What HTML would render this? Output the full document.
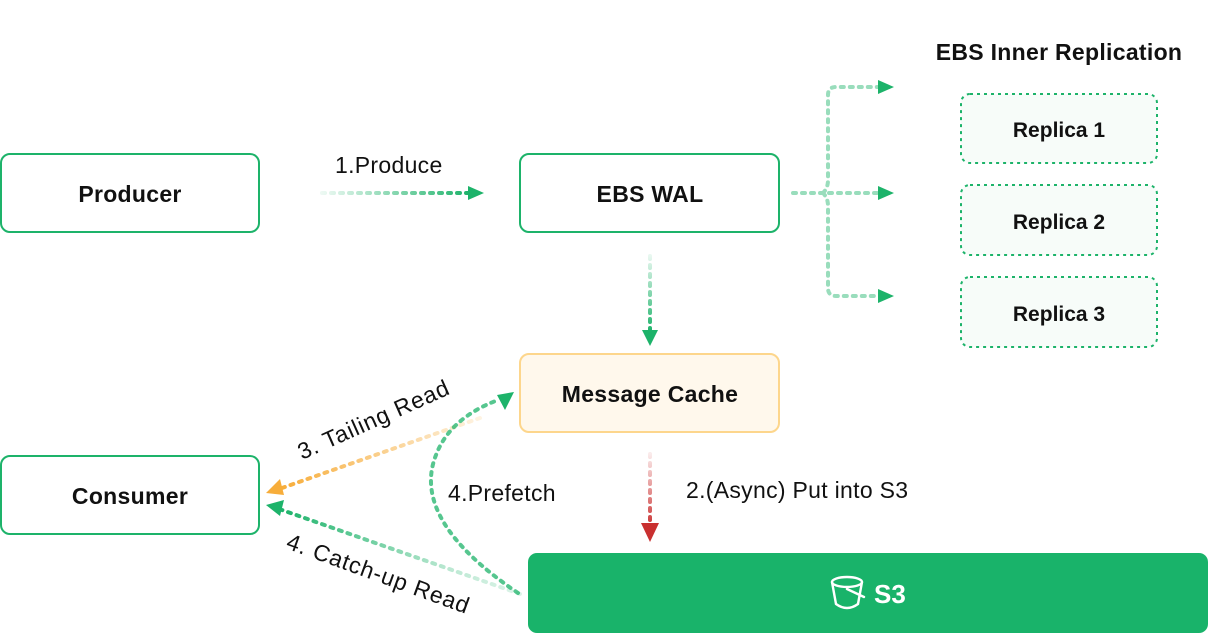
<!DOCTYPE html>
<html><head><meta charset="utf-8"><style>
html,body{margin:0;padding:0;background:#fff;}
svg{display:block;font-family:"Liberation Sans",Arial,sans-serif;}
</style></head><body>
<svg width="1208" height="634" viewBox="0 0 1208 634" xmlns="http://www.w3.org/2000/svg">
<defs>
<linearGradient id="gh" gradientUnits="userSpaceOnUse" x1="322" y1="0" x2="470" y2="0"><stop offset="0" stop-color="#1db36a" stop-opacity="0.08"/><stop offset="1" stop-color="#1db36a"/></linearGradient>
<linearGradient id="gv" gradientUnits="userSpaceOnUse" x1="0" y1="256" x2="0" y2="332"><stop offset="0" stop-color="#1db36a" stop-opacity="0.1"/><stop offset="1" stop-color="#1db36a"/></linearGradient>
<linearGradient id="rv" gradientUnits="userSpaceOnUse" x1="0" y1="454" x2="0" y2="528"><stop offset="0" stop-color="#d03a3a" stop-opacity="0.1"/><stop offset="1" stop-color="#c93030"/></linearGradient>
<linearGradient id="og" gradientUnits="userSpaceOnUse" x1="480" y1="418" x2="282" y2="488"><stop offset="0" stop-color="#f7ad3a" stop-opacity="0.15"/><stop offset="1" stop-color="#f7ad3a"/></linearGradient>
<linearGradient id="cg" gradientUnits="userSpaceOnUse" x1="520" y1="594" x2="282" y2="510"><stop offset="0" stop-color="#1db36a" stop-opacity="0.15"/><stop offset="0.3" stop-color="#1db36a" stop-opacity="0.3"/><stop offset="1" stop-color="#1db36a"/></linearGradient>
</defs>
<g fill="#fff" stroke="#1db36a" stroke-width="2">
<rect x="1" y="154" width="258" height="78" rx="9"/>
<rect x="520" y="154" width="259" height="78" rx="9"/>
<rect x="1" y="456" width="258" height="78" rx="9"/>
</g>
<rect x="520" y="354" width="259" height="78" rx="9" fill="#fff8ec" stroke="#fdd68c" stroke-width="2"/>
<rect x="528" y="553" width="680" height="80" rx="9" fill="#19b36a"/>
<g fill="#f7fcf9" stroke="#1db36a" stroke-width="2" stroke-dasharray="3 4">
<rect x="961" y="94" width="196" height="69" rx="9"/>
<rect x="961" y="185" width="196" height="70" rx="9"/>
<rect x="961" y="277" width="196" height="70" rx="9"/>
</g>
<g font-weight="bold" font-size="23" fill="#111" text-anchor="middle" letter-spacing="0.3">
<text x="130" y="202">Producer</text>
<text x="650" y="202">EBS WAL</text>
<text x="650" y="402">Message Cache</text>
<text x="130" y="504">Consumer</text>
<text x="1059" y="60">EBS Inner Replication</text>
</g>
<g font-weight="bold" font-size="21" fill="#111" text-anchor="middle">
<text x="1059" y="137">Replica 1</text>
<text x="1059" y="229">Replica 2</text>
<text x="1059" y="321">Replica 3</text>
</g>
<g font-size="23" fill="#111" letter-spacing="0.3">
<text x="335" y="173">1.Produce</text>
<text x="448" y="501">4.Prefetch</text>
<text x="686" y="498">2.(Async) Put into S3</text>
<text transform="translate(302,460) rotate(-24)" letter-spacing="0.8">3. Tailing Read</text>
<text transform="translate(285,548) rotate(20)" letter-spacing="0.8">4. Catch-up Read</text>
</g>
<g fill="none" stroke-width="4" stroke-linecap="round" stroke-dasharray="3 6">
<line x1="322" y1="193" x2="470" y2="193" stroke="url(#gh)"/>
<line x1="650" y1="256" x2="650" y2="332" stroke="url(#gv)"/>
<line x1="650" y1="454" x2="650" y2="528" stroke="url(#rv)"/>
<path d="M793 193 H880 M823 193 Q828 188 828 180 V95 Q828 87 836 87 H878 M823 193 Q828 198 828 206 V288 Q828 296 836 296 H878" stroke="#1db36a" stroke-opacity="0.45"/>
<line x1="480" y1="418" x2="282" y2="488" stroke="url(#og)"/>
<line x1="520" y1="594" x2="282" y2="510" stroke="url(#cg)"/>
<path d="M518 593 Q410 520 436 455 Q450 418 498 400" stroke="#1db36a" stroke-opacity="0.75"/>
</g>
<g fill="#1db36a">
<polygon points="468,186 484,193 468,200"/>
<polygon points="642,330 650,346 658,330"/>
<polygon points="878,80 894,87 878,94"/>
<polygon points="878,186 894,193 878,200"/>
<polygon points="878,289 894,296 878,303"/>
<polygon points="266,505 284,500 280,516"/>
<polygon points="514,392 497,395 505,410"/>
</g>
<polygon points="266,493 280,479 284,495" fill="#f7ad3a"/>
<polygon points="641,523 650,542 659,523" fill="#c93030"/>
<g stroke="#fff" stroke-width="2.4" fill="none" stroke-linecap="round">
<ellipse cx="847" cy="582" rx="15" ry="5"/>
<path d="M832 582 L836 604 Q847 612 858 604 L862 582"/>
<path d="M847 589 L864 597"/>
</g>
<text x="874" y="603" font-size="26" font-weight="bold" fill="#fff">S3</text>
</svg>
</body></html>
